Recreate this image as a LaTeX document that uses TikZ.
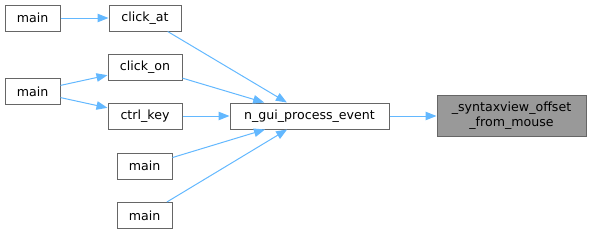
\documentclass[tikz,border=0pt]{standalone}
\usepackage{fontspec}
\setmainfont{DejaVu Sans}
\definecolor{edgeblue}{RGB}{99, 184, 255}
\definecolor{boxgray}{RGB}{102, 102, 102}
\definecolor{focusgray}{RGB}{153, 153, 153}
\usetikzlibrary{arrows.meta, positioning}

\begin{document}
\begin{tikzpicture}[
        x=1pt, y=-1pt,
        fn/.style={rectangle, draw=boxgray, fill=white, line width=1pt, inner sep=0pt, minimum height=26pt, font=\fontsize{12.6}{15}\selectfont},
        focus/.style={fn, fill=focusgray, align=center, minimum height=41pt},
        call/.style={-{Triangle[length=11pt, width=8.5pt]}, edgeblue, line width=1pt}
    ]
        \useasboundingbox (0,0) rectangle (591,233);

        \node[fn, minimum width=55pt] (mainA) at (32.5,18) {main};
        \node[fn, minimum width=72pt] (clickat) at (145,18) {click\_at};
        \node[fn, minimum width=55pt] (mainB) at (32.5,91.5) {main};
        \node[fn, minimum width=74pt] (clickon) at (145,67) {click\_on};
        \node[fn, minimum width=74pt] (ctrlkey) at (145,116) {ctrl\_key};
        \node[fn, minimum width=55pt] (mainC) at (144.5,166) {main};
        \node[fn, minimum width=55pt] (mainD) at (144.5,215.5) {main};
        \node[fn, minimum width=159pt] (process) at (309.5,116) {n\_gui\_process\_event};
        \node[focus, minimum width=149pt] (offset) at (511.5,116) {\_syntaxview\_offset\\\_from\_mouse};

        \draw[call] (mainA) -- (clickat);
        \draw[call] (mainB) -- (clickon);
        \draw[call] (mainB) -- (ctrlkey);
        \draw[call] (clickat) -- (process);
        \draw[call] (clickon) -- (process);
        \draw[call] (ctrlkey) -- (process);
        \draw[call] (mainC) -- (process);
        \draw[call] (mainD) -- (process);
        \draw[call] (process) -- (offset);
    \end{tikzpicture}
\end{document}
